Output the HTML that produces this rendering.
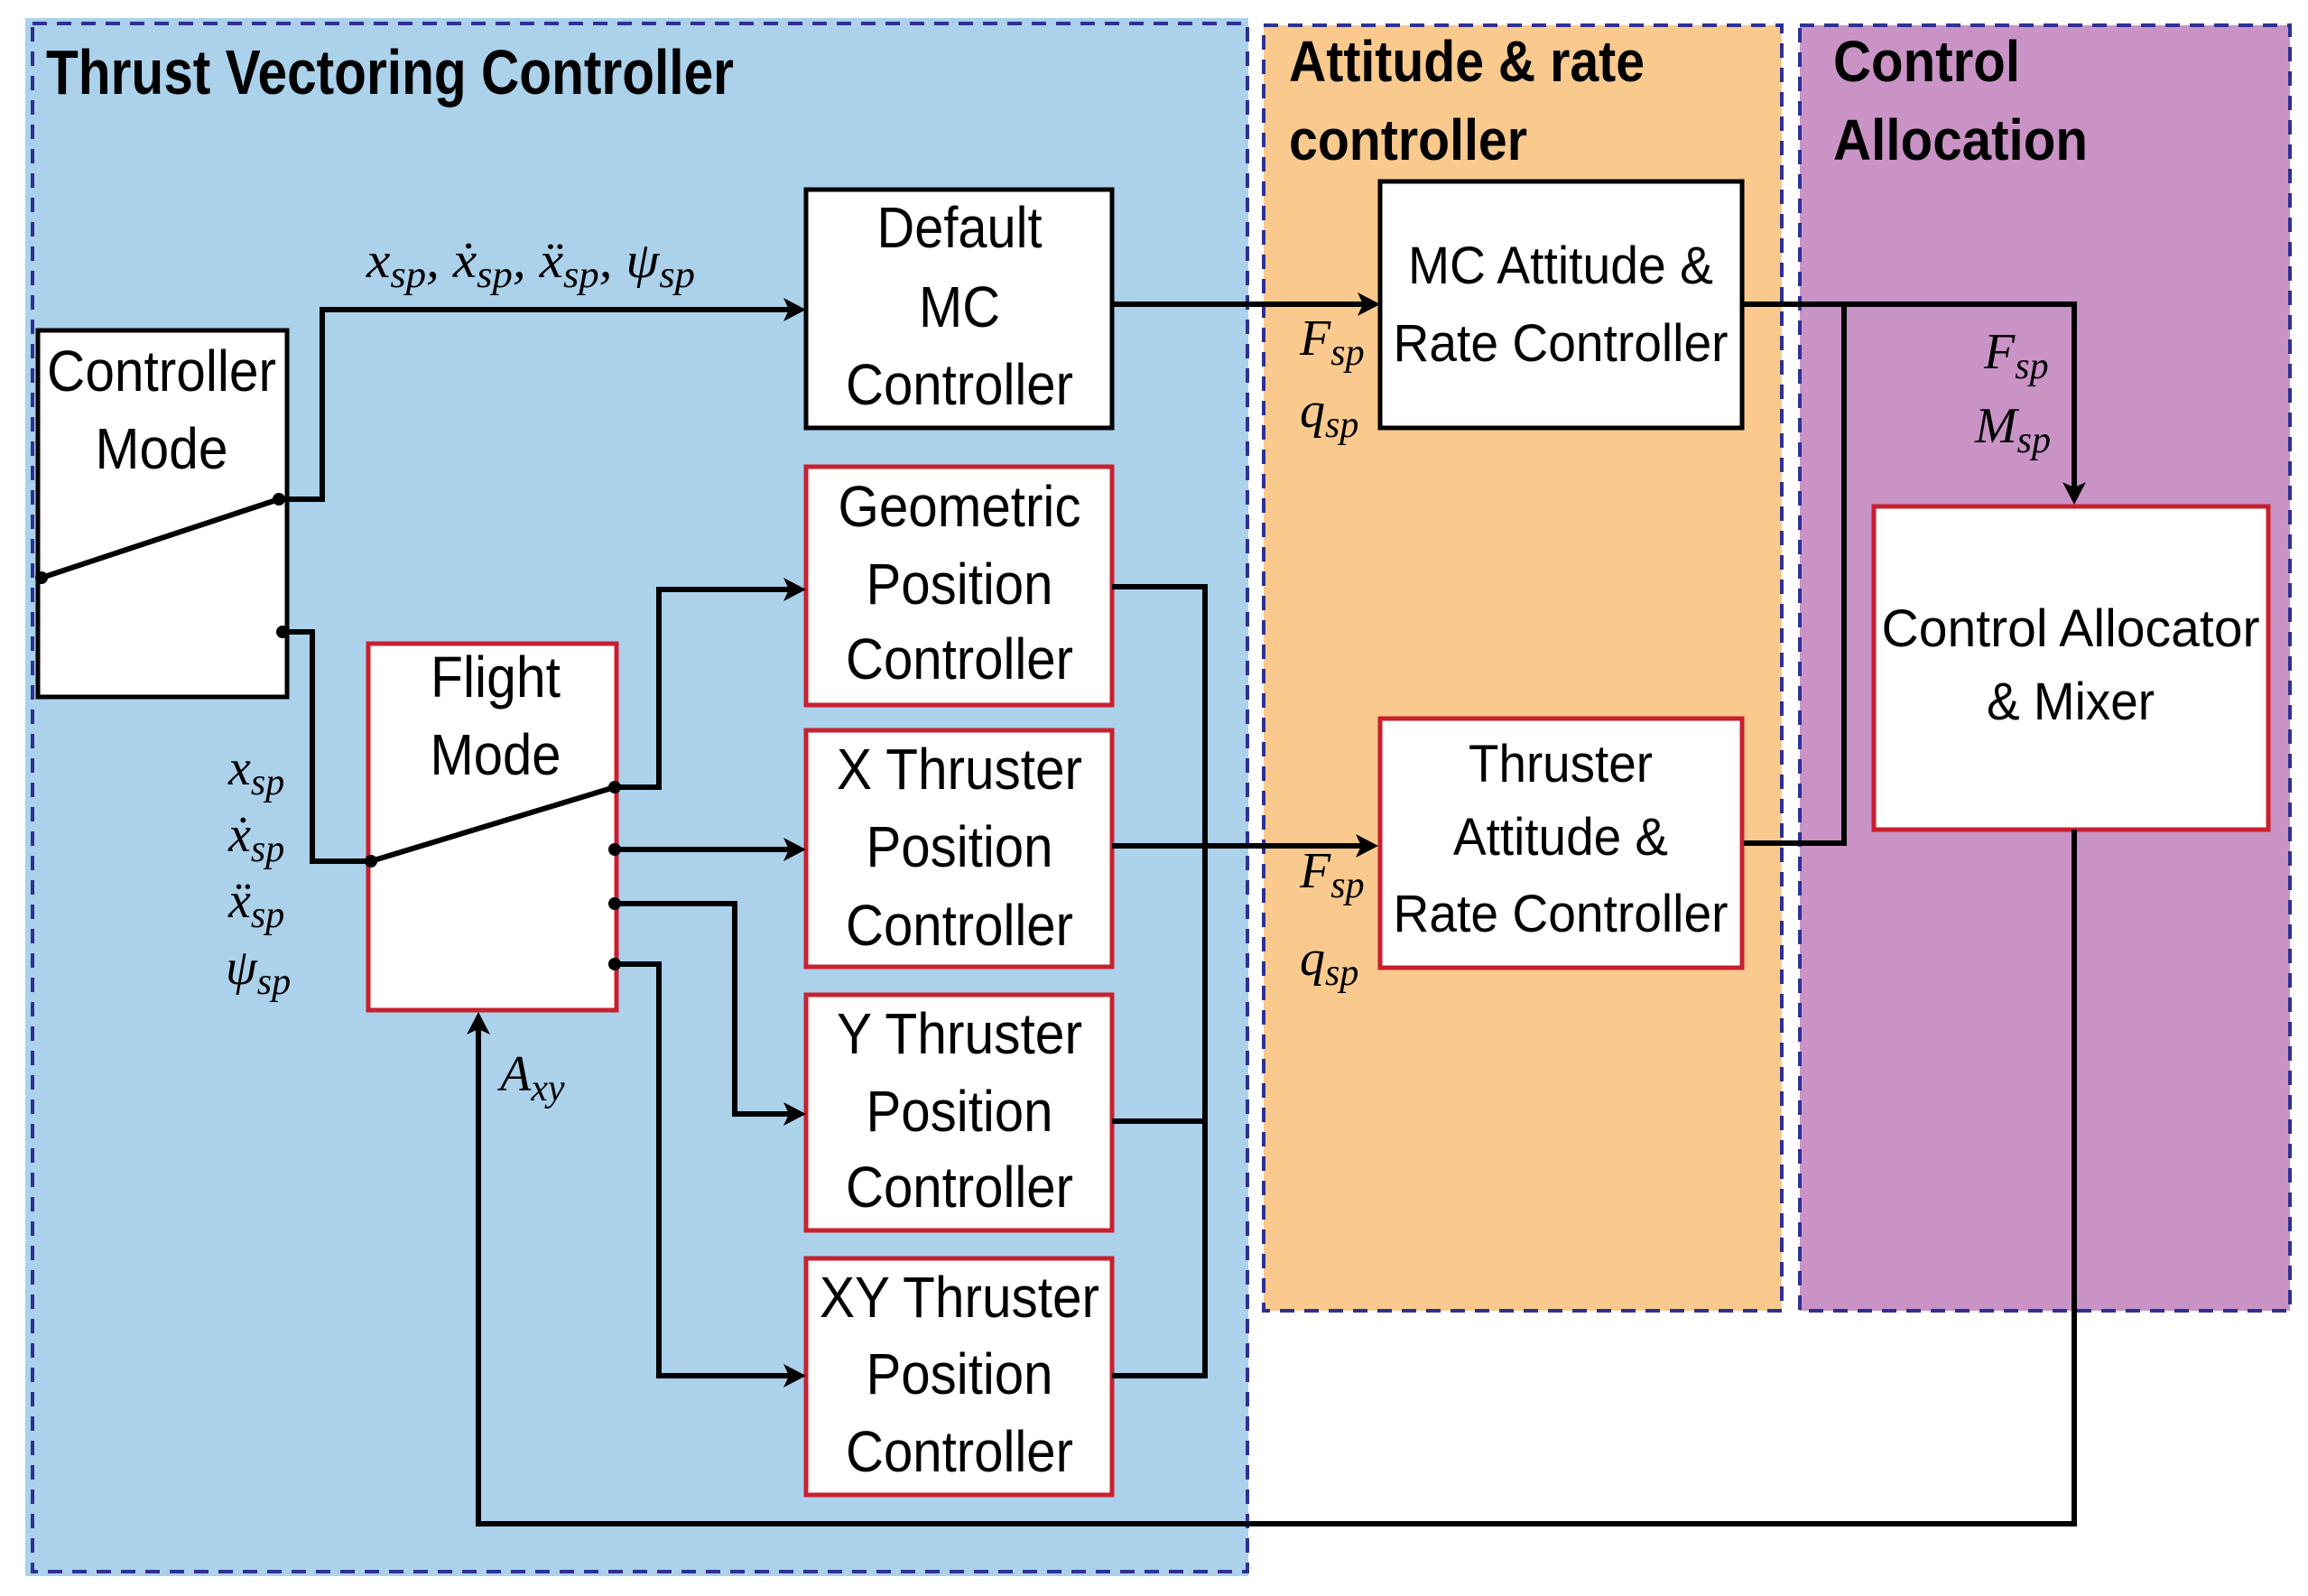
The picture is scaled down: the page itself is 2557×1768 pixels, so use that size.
<!DOCTYPE html>
<html><head><meta charset="utf-8"><style>html,body{margin:0;padding:0;background:#fff}svg{display:block}</style></head>
<body>
<svg xmlns="http://www.w3.org/2000/svg" width="2557" height="1768" viewBox="0 0 2557 1768">
<rect width="2557" height="1768" fill="#fff"/>
<!-- panels -->
<rect x="28" y="20" width="1355" height="1726" fill="#abd1eb"/>
<rect x="36" y="26" width="1346" height="1715" fill="none" stroke="#2e3192" stroke-width="4" stroke-dasharray="16,11"/>
<rect x="1400" y="28" width="574" height="1424" fill="#f9c98d" stroke="#2e3192" stroke-width="4" stroke-dasharray="16,11"/>
<rect x="1994" y="28" width="543" height="1424" fill="#c993c6" stroke="#2e3192" stroke-width="4" stroke-dasharray="16,11"/>

<g font-family="'Liberation Sans', sans-serif" font-weight="bold" fill="#000">
<text x="51" y="104" font-size="70" textLength="762" lengthAdjust="spacingAndGlyphs">Thrust Vectoring Controller</text>
<text x="1428" y="90" font-size="64" textLength="394" lengthAdjust="spacingAndGlyphs">Attitude &amp; rate</text>
<text x="1428" y="177" font-size="64" textLength="264" lengthAdjust="spacingAndGlyphs">controller</text>
<text x="2031" y="90" font-size="64" textLength="207" lengthAdjust="spacingAndGlyphs">Control</text>
<text x="2031" y="177" font-size="64" textLength="282" lengthAdjust="spacingAndGlyphs">Allocation</text>
</g>

<!-- boxes -->
<g stroke-width="5" fill="#fff">
<rect x="42" y="366" width="276" height="406" stroke="#000"/>
<rect x="893" y="210" width="339" height="264" stroke="#000"/>
<rect x="893" y="517" width="339" height="264" stroke="#c8202f"/>
<rect x="893" y="809" width="339" height="262" stroke="#c8202f"/>
<rect x="893" y="1102" width="339" height="261" stroke="#c8202f"/>
<rect x="893" y="1394" width="339" height="262" stroke="#c8202f"/>
<rect x="408" y="713" width="275" height="406" stroke="#c8202f"/>
<rect x="1529" y="201" width="401" height="273" stroke="#000"/>
<rect x="1529" y="796" width="401" height="276" stroke="#c8202f"/>
<rect x="2076" y="561" width="437" height="358" stroke="#c8202f"/>
</g>

<g font-family="'Liberation Sans Narrow','Liberation Sans', sans-serif" font-size="64" text-anchor="middle" fill="#000">
<text x="179" y="433" textLength="254" lengthAdjust="spacingAndGlyphs">Controller</text>
<text x="179" y="519" textLength="147" lengthAdjust="spacingAndGlyphs">Mode</text>
<text x="1063" y="274" textLength="183" lengthAdjust="spacingAndGlyphs">Default</text>
<text x="1063" y="362" textLength="90" lengthAdjust="spacingAndGlyphs">MC</text>
<text x="1063" y="448" textLength="252" lengthAdjust="spacingAndGlyphs">Controller</text>
<text x="1063" y="583" textLength="269" lengthAdjust="spacingAndGlyphs">Geometric</text>
<text x="1063" y="669" textLength="207" lengthAdjust="spacingAndGlyphs">Position</text>
<text x="1063" y="752" textLength="252" lengthAdjust="spacingAndGlyphs">Controller</text>
<text x="1063" y="874" textLength="272" lengthAdjust="spacingAndGlyphs">X Thruster</text>
<text x="1063" y="960" textLength="207" lengthAdjust="spacingAndGlyphs">Position</text>
<text x="1063" y="1047" textLength="252" lengthAdjust="spacingAndGlyphs">Controller</text>
<text x="1063" y="1167" textLength="272" lengthAdjust="spacingAndGlyphs">Y Thruster</text>
<text x="1063" y="1253" textLength="207" lengthAdjust="spacingAndGlyphs">Position</text>
<text x="1063" y="1337" textLength="252" lengthAdjust="spacingAndGlyphs">Controller</text>
<text x="1063" y="1459" textLength="310" lengthAdjust="spacingAndGlyphs">XY Thruster</text>
<text x="1063" y="1544" textLength="207" lengthAdjust="spacingAndGlyphs">Position</text>
<text x="1063" y="1630" textLength="252" lengthAdjust="spacingAndGlyphs">Controller</text>
<text x="549" y="772" textLength="144" lengthAdjust="spacingAndGlyphs">Flight</text>
<text x="549" y="858" textLength="145" lengthAdjust="spacingAndGlyphs">Mode</text>
</g>
<g font-family="'Liberation Sans', sans-serif" font-size="58" text-anchor="middle" fill="#000">
<text x="1729" y="314" textLength="338" lengthAdjust="spacingAndGlyphs">MC Attitude &amp;</text>
<text x="1729" y="400" textLength="371" lengthAdjust="spacingAndGlyphs">Rate Controller</text>
<text x="1729" y="866" textLength="204" lengthAdjust="spacingAndGlyphs">Thruster</text>
<text x="1729" y="947" textLength="238" lengthAdjust="spacingAndGlyphs">Attitude &amp;</text>
<text x="1729" y="1032" textLength="371" lengthAdjust="spacingAndGlyphs">Rate Controller</text>
<text x="2294" y="716" textLength="419" lengthAdjust="spacingAndGlyphs">Control  Allocator</text>
<text x="2294" y="797" textLength="186" lengthAdjust="spacingAndGlyphs">&amp; Mixer</text>
</g>

<g stroke="#000" stroke-width="6" fill="none" stroke-linejoin="miter">
<line x1="46" y1="640" x2="309" y2="553"/>
<polyline points="309,553 357,553 357,343 880,343"/>
<polyline points="313,700 346,700 346,954 411,954"/>
<line x1="411" y1="954" x2="681" y2="872"/>
<polyline points="681,872 730,872 730,653 880,653"/>
<line x1="681" y1="941" x2="880" y2="941"/>
<polyline points="681,1001 814,1001 814,1234 880,1234"/>
<polyline points="681,1068 730,1068 730,1524 880,1524"/>
<polyline points="1232,650 1335,650 1335,1524 1232,1524"/>
<line x1="1232" y1="1242" x2="1335" y2="1242"/>
<line x1="1232" y1="937" x2="1515" y2="937"/>
<line x1="1232" y1="337" x2="1515" y2="337"/>
<polyline points="1930,337 2298,337 2298,545"/>
<polyline points="2043,337 2043,934 1932,934"/>
<polyline points="2298,919 2298,1688 530,1688 530,1134"/>
</g>
<g fill="#000">
<circle cx="46" cy="640" r="7"/><circle cx="309" cy="553" r="7"/><circle cx="313" cy="700" r="7"/>
<circle cx="411" cy="954" r="7"/><circle cx="681" cy="872" r="7"/><circle cx="681" cy="941" r="7"/>
<circle cx="681" cy="1001" r="7"/><circle cx="681" cy="1068" r="7"/>
<polygon points="893,343 868,330 874,343 868,356"/>
<polygon points="893,653 868,640 874,653 868,666"/>
<polygon points="893,941 868,928 874,941 868,954"/>
<polygon points="893,1234 868,1221 874,1234 868,1247"/>
<polygon points="893,1524 868,1511 874,1524 868,1537"/>
<polygon points="1529,337 1504,324 1510,337 1504,350"/>
<polygon points="1527,937 1502,924 1508,937 1502,950"/>
<polygon points="2298,559 2285,534 2298,540 2311,534"/>
<polygon points="530,1121 517,1146 530,1140 543,1146"/>
</g>

<g font-family="'Liberation Serif', serif" font-style="italic" font-size="56" fill="#000">
<text x="406" y="307" textLength="364" lengthAdjust="spacingAndGlyphs">x<tspan font-size="42" dy="11">sp</tspan><tspan dy="-11">, ẋ</tspan><tspan font-size="42" dy="11">sp</tspan><tspan dy="-11">, ẍ</tspan><tspan font-size="42" dy="11">sp</tspan><tspan dy="-11">, ψ</tspan><tspan font-size="42" dy="11">sp</tspan></text>
<text x="253" y="869">x<tspan font-size="42" dy="11">sp</tspan></text>
<text x="253" y="943">ẋ<tspan font-size="42" dy="11">sp</tspan></text>
<text x="253" y="1016">ẍ<tspan font-size="42" dy="11">sp</tspan></text>
<text x="250" y="1090">ψ<tspan font-size="42" dy="11">sp</tspan></text>
<text x="554" y="1208">A<tspan font-size="42" dy="11">xy</tspan></text>
<text x="1440" y="393">F<tspan font-size="42" dy="11">sp</tspan></text>
<text x="1440" y="473">q<tspan font-size="42" dy="11">sp</tspan></text>
<text x="1440" y="983">F<tspan font-size="42" dy="11">sp</tspan></text>
<text x="1440" y="1080">q<tspan font-size="42" dy="11">sp</tspan></text>
<text x="2198" y="408">F<tspan font-size="42" dy="11">sp</tspan></text>
<text x="2188" y="490">M<tspan font-size="42" dy="11">sp</tspan></text>
</g>
</svg>
</body></html>
